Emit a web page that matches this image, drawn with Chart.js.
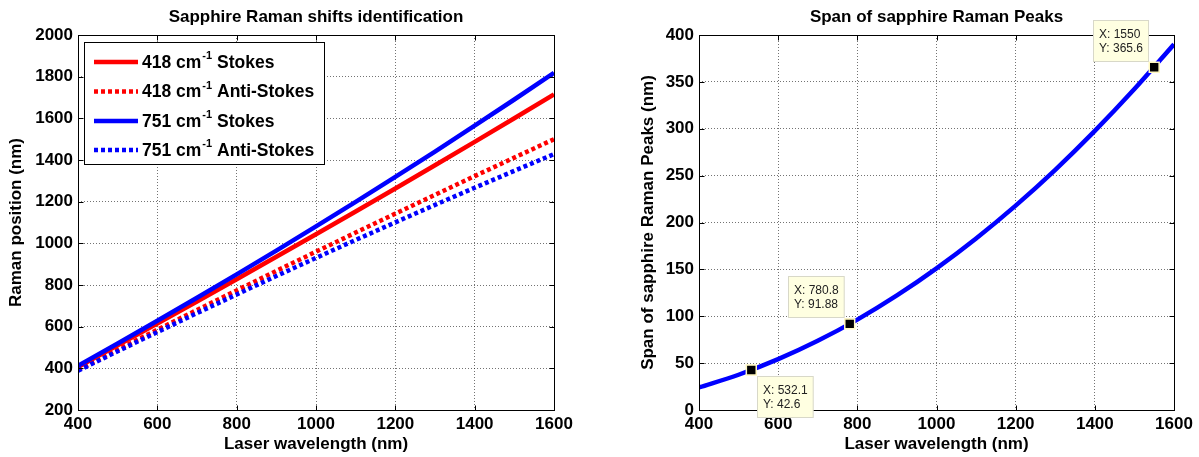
<!DOCTYPE html>
<html><head><meta charset="utf-8">
<script src="https://cdn.jsdelivr.net/npm/chart.js@4.4.0/dist/chart.umd.min.js"></script>
<style>
html,body{margin:0;padding:0;background:#fff;}
#wrap{position:relative;width:1199px;height:457px;overflow:hidden;background:#fff;}
canvas{position:absolute;top:0;}
</style></head><body>
<div id="wrap"><canvas id="c1" width="600" height="457" style="left:0"></canvas><canvas id="c2" width="599" height="457" style="left:600px"></canvas></div>
<script>
// ---- data ----
const laserWavelength = [400,500,600,700,800,900,1000,1100,1200,1300,1400,1500,1600];
const stokes418 = [406.8,510.7,615.4,721.1,827.7,935.2,1043.6,1153.0,1263.4,1374.7,1487.0,1600.3,1714.7];
const antiStokes418 = [393.4,489.8,585.3,680.1,774.1,867.4,959.9,1051.6,1142.7,1233.0,1322.6,1411.5,1499.7];
const stokes751 = [412.4,519.5,628.3,738.8,851.1,965.2,1081.2,1199.1,1318.8,1440.6,1564.5,1690.4,1818.5];
const antiStokes751 = [388.3,481.9,574.1,665.0,754.7,843.0,930.1,1016.1,1100.8,1184.4,1266.8,1348.1,1428.4];
const spanPeaks = [24.1,37.6,54.2,73.8,96.4,122.2,151.1,183.0,218.0,256.2,297.7,342.3,390.1];
const tipX = [532.1,780.8,1550];
const tipY = [42.6,91.88,365.6];
const tipXText = ['532.1','780.8','1550'];
const tipYText = ['42.6','91.88','365.6'];
const legendShift = ['418','418','751','751'];
const legendKind = ['Stokes','Anti-Stokes','Stokes','Anti-Stokes'];
const leftTitle = 'Sapphire Raman shifts identification';
const rightTitle = 'Span of sapphire Raman Peaks';
const xAxisTitle = 'Laser wavelength (nm)';
const leftYTitle = 'Raman position (nm)';
const rightYTitle = 'Span of sapphire Raman Peaks (nm)';

// ---- styling ----
const FONT = '"Liberation Sans", Arial, Helvetica, sans-serif';
Chart.defaults.font.family = FONT;
Chart.defaults.color = '#000';
const RED = '#ff0000', BLUE = '#0000ff';
const DOT = [4,3];
const seriesColor = [RED, RED, BLUE, BLUE];
const seriesDash = [[], DOT, [], DOT];

function pts(xs, ys){ return xs.map((x,i)=>({x:x, y:ys[i]})); }

function xScale(){
  return {
    type:'linear', min:400, max:1600,
    ticks:{stepSize:200, padding:4, color:'#000', font:{size:17, weight:'bold'}, maxRotation:0, autoSkip:false, callback:v=>String(v)},
    grid:{color:'rgba(0,0,0,0.55)', drawTicks:false, lineWidth:1},
    border:{display:false, dash:[1,2]},
    title:{display:true, text:xAxisTitle, color:'#000', font:{size:17, weight:'bold'}, padding:{top:0,bottom:2}},
    afterFit(s){ s.height = 47; }
  };
}
function yScale(min,max,step,title,width){
  return {
    type:'linear', min:min, max:max,
    ticks:{stepSize:step, padding:5, color:'#000', font:{size:17, weight:'bold'}, autoSkip:false, callback:v=>String(v)},
    grid:{color:'rgba(0,0,0,0.55)', drawTicks:false, lineWidth:1},
    border:{display:false, dash:[1,2]},
    title:{display:true, text:title, color:'#000', font:{size:17, weight:'bold'}, padding:{top:6,bottom:0}},
    afterFit(s){ s.width = width; }
  };
}

const framePlugin = {
  id:'frame',
  afterDatasetsDraw(chart){
    const {ctx, chartArea:a, scales} = chart;
    ctx.save();
    ctx.setLineDash([]);
    ctx.strokeStyle = '#000'; ctx.lineWidth = 1;
    const L = Math.round(a.left)+0.5, T = Math.round(a.top)+0.5, R = Math.round(a.right)+0.5, B = Math.round(a.bottom)+0.5;
    ctx.strokeRect(L, T, R-L, B-T);
    const tl = 5;
    ctx.beginPath();
    scales.x.ticks.forEach(t=>{
      const p = Math.round(scales.x.getPixelForValue(t.value))+0.5;
      ctx.moveTo(p,B); ctx.lineTo(p,B-tl); ctx.moveTo(p,T); ctx.lineTo(p,T+tl);
    });
    scales.y.ticks.forEach(t=>{
      const p = Math.round(scales.y.getPixelForValue(t.value))+0.5;
      ctx.moveTo(L,p); ctx.lineTo(L+tl,p); ctx.moveTo(R,p); ctx.lineTo(R-tl,p);
    });
    ctx.stroke();
    ctx.restore();
  }
};
const titlePlugin = {
  id:'ptitle',
  afterDraw(chart, args, opts){
    const {ctx, chartArea:a} = chart;
    ctx.save();
    ctx.font = 'bold 17px ' + FONT;
    ctx.fillStyle = '#000'; ctx.textAlign = 'center'; ctx.textBaseline = 'middle';
    ctx.fillText(opts.text, (a.left+a.right)/2, 17);
    ctx.restore();
  }
};
const legendPlugin = {
  id:'mlegend',
  afterDraw(chart){
    const {ctx} = chart;
    ctx.save();
    const bx = 84.5, by = 42.5, bw = 240, bh = 122;
    ctx.fillStyle = '#fff'; ctx.fillRect(bx,by,bw,bh);
    ctx.strokeStyle = '#000'; ctx.lineWidth = 1; ctx.setLineDash([]);
    ctx.strokeRect(bx,by,bw,bh);
    const rows = [62, 91.5, 121, 150];
    for (let i=0;i<4;i++){
      const y = rows[i];
      ctx.beginPath();
      ctx.strokeStyle = seriesColor[i]; ctx.lineWidth = 4.5; ctx.lineCap = 'butt';
      ctx.setLineDash(seriesDash[i]);
      ctx.moveTo(94,y); ctx.lineTo(138,y); ctx.stroke();
      ctx.setLineDash([]);
      ctx.fillStyle = '#000'; ctx.textAlign = 'left'; ctx.textBaseline = 'middle';
      ctx.font = 'bold 17.5px ' + FONT;
      let x = 142;
      const pre = legendShift[i] + ' cm';
      ctx.fillText(pre, x, y+1); x += ctx.measureText(pre).width;
      ctx.font = 'bold 11px ' + FONT;
      ctx.fillText('-1', x+1, y-6); x += ctx.measureText('-1').width + 1;
      ctx.font = 'bold 17.5px ' + FONT;
      ctx.fillText(' ' + legendKind[i], x, y+1);
    }
    ctx.restore();
  }
};
const tipPlacement = ['below-right','above-left','above-left'];
const tipPlugin = {
  id:'datatips',
  afterDraw(chart){
    const {ctx} = chart;
    const meta = chart.getDatasetMeta(1);
    ctx.save();
    ctx.font = '12px ' + FONT;
    meta.data.forEach((pt,i)=>{
      const l1 = 'X: ' + tipXText[i], l2 = 'Y: ' + tipYText[i];
      const w = Math.max(ctx.measureText(l1).width, ctx.measureText(l2).width) + 11;
      const h = 41;
      let x0, y0;
      if (tipPlacement[i] === 'below-right'){ x0 = pt.x + 6; y0 = pt.y + 5.5; }
      else { x0 = pt.x - 6.5 - w; y0 = pt.y - 6.5 - h; }
      x0 = Math.round(x0)+0.5; y0 = Math.round(y0)+0.5;
      ctx.fillStyle = '#ffffe1'; ctx.fillRect(x0,y0,w,h);
      ctx.strokeStyle = '#d8d8c8'; ctx.lineWidth = 1; ctx.setLineDash([]);
      ctx.strokeRect(x0,y0,w,h);
      ctx.fillStyle = '#222'; ctx.textAlign = 'left'; ctx.textBaseline = 'middle';
      ctx.fillText(l1, x0+5.5, y0+14);
      ctx.fillText(l2, x0+5.5, y0+28);
    });
    ctx.restore();
  }
};

const lineBase = {pointRadius:0, borderWidth:4.5, fill:false, tension:0, borderCapStyle:'butt'};

new Chart(document.getElementById('c1'), {
  type:'line',
  data:{datasets:[
    Object.assign({label:'418 Stokes', data:pts(laserWavelength, stokes418), borderColor:RED, borderDash:[], order:4}, lineBase),
    Object.assign({label:'418 Anti-Stokes', data:pts(laserWavelength, antiStokes418), borderColor:RED, borderDash:DOT, order:3}, lineBase),
    Object.assign({label:'751 Stokes', data:pts(laserWavelength, stokes751), borderColor:BLUE, borderDash:[], order:2}, lineBase),
    Object.assign({label:'751 Anti-Stokes', data:pts(laserWavelength, antiStokes751), borderColor:BLUE, borderDash:DOT, order:1}, lineBase)
  ]},
  options:{
    responsive:false, animation:false, devicePixelRatio:1,
    layout:{padding:{left:0, right:46, top:35, bottom:0}},
    plugins:{legend:{display:false}, tooltip:{enabled:false}, title:{display:false}, ptitle:{text:leftTitle}},
    scales:{x:xScale(), y:yScale(200,2000,200,leftYTitle,78)}
  },
  plugins:[framePlugin, titlePlugin, legendPlugin]
});

new Chart(document.getElementById('c2'), {
  type:'line',
  data:{datasets:[
    Object.assign({label:'span', data:pts(laserWavelength, spanPeaks), borderColor:BLUE, cubicInterpolationMode:'monotone', order:2}, lineBase),
    {label:'tips', data:pts(tipX, tipY), showLine:false, pointStyle:'rect', pointRadius:7, pointBackgroundColor:'#000', pointBorderColor:'#fff8c0', pointBorderWidth:1.5, order:1}
  ]},
  options:{
    responsive:false, animation:false, devicePixelRatio:1,
    layout:{padding:{left:32, right:25, top:35, bottom:0}},
    plugins:{legend:{display:false}, tooltip:{enabled:false}, title:{display:false}, ptitle:{text:rightTitle}},
    scales:{x:xScale(), y:yScale(0,400,50,rightYTitle,67)}
  },
  plugins:[framePlugin, titlePlugin, tipPlugin]
});
</script>
</body></html>
